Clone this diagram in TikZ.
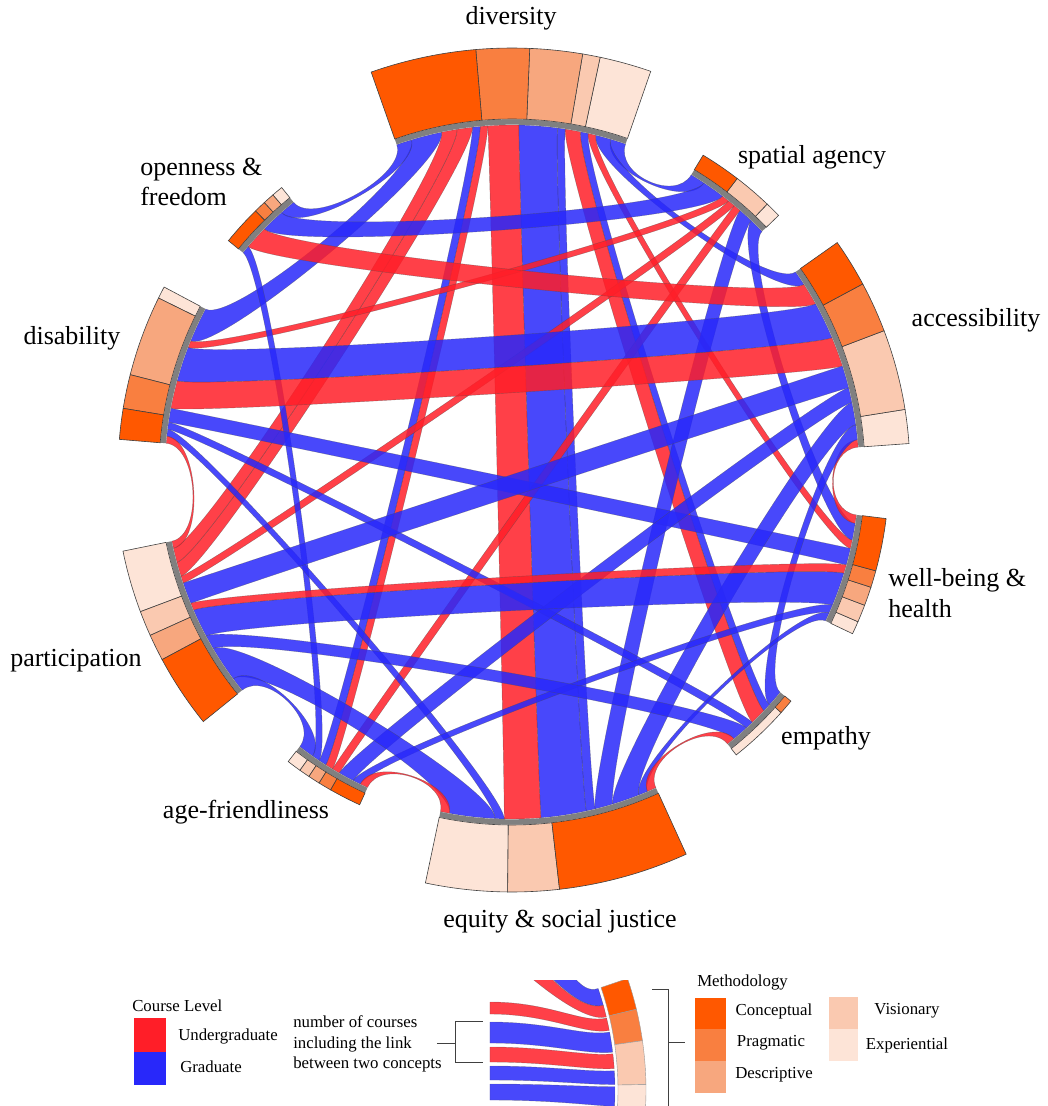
\documentclass[tikz,border=0pt]{standalone}
\usepackage{fontspec}
\setmainfont{Liberation Serif}
\definecolor{mConc}{RGB}{255,88,0}
\definecolor{mPrag}{RGB}{249,127,64}
\definecolor{mDesc}{RGB}{247,167,126}
\definecolor{mVis}{RGB}{250,201,176}
\definecolor{mExp}{RGB}{253,228,215}
\definecolor{ugRed}{RGB}{255,30,40}
\definecolor{grBlue}{RGB}{40,40,250}
\definecolor{ringGray}{RGB}{128,128,128}

% radius where ribbons end, radius of the bezier handles
\newcommand\RR{347}
\newcommand\RC{315}

% \setslots{start angle}{end angle}{name/width,...}: split an arc into ribbon slots
\newcommand\setslots[3]{%
  \xdef\slotsum{0}%
  \foreach \sn/\sw in {#3}{\pgfmathsetmacro\slottmp{\slotsum+\sw}\global\let\slotsum\slottmp}%
  \pgfmathsetmacro\slotk{((#2)-(#1))/\slotsum}%
  \xdef\slotcur{#1}%
  \foreach \sn/\sw in {#3}{%
    \pgfmathsetmacro\slotnext{\slotcur+\slotk*\sw}%
    \expandafter\xdef\csname sa@\sn\endcsname{\slotcur}%
    \expandafter\xdef\csname sb@\sn\endcsname{\slotnext}%
    \global\let\slotcur\slotnext}}

% \rib{style}{slot on one arc}{slot on the other arc}
\newcommand\rib[3]{%
  \edef\ribAa{\csname sa@#2\endcsname}\edef\ribAb{\csname sb@#2\endcsname}%
  \edef\ribBa{\csname sa@#3\endcsname}\edef\ribBb{\csname sb@#3\endcsname}%
  \path[#1] (\ribAa:\RR) arc[start angle=\ribAa,end angle=\ribAb,radius=\RR]
    .. controls (\ribAb:\RC) and (\ribBa:\RC) .. (\ribBa:\RR)
    arc[start angle=\ribBa,end angle=\ribBb,radius=\RR]
    .. controls (\ribBb:\RC) and (\ribAa:\RC) .. cycle;}

% methodology block: colour, from, to, outer radius
\newcommand\blk[4]{%
  \path[blockline, fill=#1] (#2:353) arc[start angle=#2,end angle=#3,radius=353]
    -- (#3:#4) arc[start angle=#3,end angle=#2,radius=#4] -- cycle;}
% grey ring piece under a concept
\newcommand\ring[2]{\draw[ringGray, line width=4pt] (#1:350) arc[start angle=#1,end angle=#2,radius=350];}

\begin{document}
\begin{tikzpicture}[x=0.75pt,y=0.75pt,
  ug/.style={fill=ugRed, fill opacity=0.85, draw=black!70, draw opacity=0.5, line width=0.3pt},
  gr/.style={fill=grBlue, fill opacity=0.85, draw=black!70, draw opacity=0.5, line width=0.3pt},
  blockline/.style={draw=black!75, line width=0.45pt},
  lab/.style={font=\fontsize{19.5}{23}\selectfont, inner sep=0pt},
  leg/.style={font=\fontsize{12.6}{15.4}\selectfont, inner sep=0pt},
  brk/.style={draw=black!75, line width=0.7pt}]
\useasboundingbox (-512,-634) rectangle (535,472);

% ---------- ribbon slots on each concept arc (counter-clockwise) ----------
\setslots{70.9}{109.4}{1d/2,2d/2,3d/1,4d/1,5d/2,6d/1,7d/5,8d/4,9d/1,10d/1,11d/2,12d/2,13d/4,14d/2}
\setslots{43.9}{58.9}{15s/2,16s/2,17s/1,18s/1,19s/1,20s/3,1s/2}
\setslots{4.1}{35.2}{29a/1,30a/2,31a/3,33a/2,32a/3,24a/4,23a/5,21a/3,2a/2}
\setslots{-25.4}{-7.1}{37w/1,36w/1,34w/4,35w/1,25w/2,3w/1,15w/2,29w/1}
\setslots{-51.6}{-39.4}{39e/1,38e/2,26e/1,5e/2,4e/1,30e/2}
\setslots{-101.9}{-65.5}{41q/1,40q/5,27q/1,8q/4,7q/5,6q/1,16q/2,31q/3,37q/1,39q/1}
\setslots{-127.7}{-114.6}{42g/2,22g/1,10g/1,9g/1,17g/1,33g/2,36g/1,41g/1}
\setslots{191.5}{218.96}{28p/1,12p/2,11p/2,18p/1,32p/3,35p/1,34p/4,38p/2,40p/5,42p/2}
\setslots{152}{175.25}{13i/5,19i/1,23i/5,24i/4,25i/2,26i/1,27i/1,28i/1}
\setslots{129}{140.8}{14o/2,20o/3,21o/3,22o/1}

% ---------- ribbons ----------
\rib{gr}{1d}{1s}
\rib{gr}{2d}{2a}
\rib{ug}{3d}{3w}
\rib{gr}{4d}{4e}
\rib{ug}{5d}{5e}
\rib{gr}{6d}{6q}
\rib{gr}{7d}{7q}
\rib{ug}{8d}{8q}
\rib{ug}{9d}{9g}
\rib{gr}{10d}{10g}
\rib{ug}{11d}{11p}
\rib{ug}{12d}{12p}
\rib{gr}{13d}{13i}
\rib{gr}{14d}{14o}
\rib{gr}{15s}{15w}
\rib{gr}{16s}{16q}
\rib{ug}{17s}{17g}
\rib{ug}{18s}{18p}
\rib{ug}{19s}{19i}
\rib{gr}{20s}{20o}
\rib{ug}{21o}{21a}
\rib{gr}{22o}{22g}
\rib{gr}{23i}{23a}
\rib{ug}{24i}{24a}
\rib{gr}{25i}{25w}
\rib{gr}{26i}{26e}
\rib{gr}{27i}{27q}
\rib{ug}{28i}{28p}
\rib{ug}{29a}{29w}
\rib{gr}{30a}{30e}
\rib{gr}{31a}{31q}
\rib{gr}{32a}{32p}
\rib{gr}{33a}{33g}
\rib{gr}{34w}{34p}
\rib{ug}{35w}{35p}
\rib{gr}{36w}{36g}
\rib{gr}{37w}{37q}
\rib{gr}{38e}{38p}
\rib{ug}{39e}{39q}
\rib{gr}{40q}{40p}
\rib{ug}{41q}{41g}
\rib{gr}{42p}{42g}

% ---------- grey ring ----------
\ring{70.9}{109.4}
\ring{43.9}{58.9}
\ring{4.1}{35.2}
\ring{-25.4}{-7.1}
\ring{-51.6}{-39.4}
\ring{-101.9}{-65.5}
\ring{-127.7}{-114.6}
\ring{191.5}{218.96}
\ring{152}{175.25}
\ring{129}{140.8}

% ---------- methodology blocks ----------
% diversity
\blk{mExp}{70.9}{78.0}{424}\blk{mVis}{78.0}{80.4}{424}\blk{mDesc}{80.4}{87.6}{424}
\blk{mPrag}{87.6}{94.9}{424}\blk{mConc}{94.9}{109.4}{424}
% spatial agency
\blk{mExp}{43.9}{46.4}{370}\blk{mVis}{46.4}{52.5}{370}\blk{mConc}{52.5}{58.9}{370}
% accessibility
\blk{mExp}{4.1}{9.05}{398}\blk{mVis}{9.05}{20.8}{398}\blk{mPrag}{20.8}{28.2}{398}\blk{mConc}{28.2}{35.2}{398}
% well-being & health
\blk{mExp}{-25.4}{-23.4}{377}\blk{mVis}{-23.4}{-20.7}{377}\blk{mDesc}{-20.7}{-17.8}{377}
\blk{mPrag}{-17.8}{-15.2}{377}\blk{mConc}{-15.2}{-7.1}{377}
% empathy
\blk{mExp}{-51.6}{-41.8}{361}\blk{mPrag}{-41.8}{-39.4}{361}
% equity & social justice
\blk{mExp}{-101.9}{-90.6}{420}\blk{mVis}{-90.6}{-83.5}{420}\blk{mConc}{-83.5}{-65.5}{420}
% age-friendliness
\blk{mExp}{-127.7}{-125.4}{366}\blk{mVis}{-125.4}{-123.7}{366}\blk{mDesc}{-123.7}{-121.8}{366}
\blk{mPrag}{-121.8}{-119.7}{366}\blk{mConc}{-119.7}{-114.6}{366}
% participation
\blk{mExp}{191.5}{200.6}{397}\blk{mVis}{200.6}{204.3}{397}\blk{mDesc}{204.3}{208.2}{397}\blk{mConc}{208.2}{218.96}{397}
% disability
\blk{mExp}{152}{153.8}{394}\blk{mDesc}{153.8}{165.7}{394}\blk{mPrag}{165.7}{170.7}{394}\blk{mConc}{170.7}{175.25}{394}
% openness & freedom
\blk{mExp}{129}{130.8}{366}\blk{mDesc}{130.8}{132.6}{366}\blk{mPrag}{132.6}{134.5}{366}\blk{mConc}{134.5}{140.8}{366}

% ---------- concept labels ----------
\node[lab] (tDiv) at (-1,454) {diversity};
\node[lab] (tSpa) at (300,315) {spatial agency};
\node[lab, anchor=west, align=left] (tOpe) at (-372,290) {openness \&\\freedom};
\node[lab] (tDis) at (-440,134) {disability};
\node[lab] (tAcc) at (464,152) {accessibility};
\node[lab, anchor=west, align=left] (tWel) at (376,-121) {well-being \&\\health};
\node[lab] (tPar) at (-436,-189) {participation};
\node[lab] (tEmp) at (314,-266) {empathy};
\node[lab] (tAge) at (-266,-340) {age-friendliness};
\node[lab] (tEqu) at (48,-449) {equity \& social justice};

% ---------- legend: course level ----------
\node[leg, anchor=west] (lCourse) at (-380,-534) {Course Level};
\fill[ugRed] (-378,-546) rectangle (-346,-580);
\fill[grBlue] (-378,-580) rectangle (-346,-613);
\node[leg, anchor=west] (lUg) at (-334,-564) {Undergraduate};
\node[leg, anchor=west] (lGr) at (-332,-595) {Graduate};
\node[leg, anchor=west, align=left] (lNum) at (-219,-572) {number of courses\\including the link\\between two concepts};
\draw[brk] (-75,-571) -- (-57,-571);
\draw[brk] (-29,-549) -- (-57,-549) -- (-57,-590) -- (-29,-590);

% ---------- legend: sample of the ring ----------
\begin{scope}
\clip (-22,-508) rectangle (138,-634);
\begin{scope}[shift={(-212,-618)}]
  \path[gr] (250,135) .. controls (270,125) and (18.8:295) .. (18.8:315)
     arc[start angle=18.8,end angle=15.6,radius=315] .. controls (15.6:290) and (245,120) .. (228,135) -- cycle;
  \path[ug] (228,135) .. controls (245,118) and (15.6:290) .. (15.6:315)
     arc[start angle=15.6,end angle=13.4,radius=315] .. controls (13.4:290) and (230,112) .. (205,135) -- cycle;
  \path[ug] (190,88) .. controls (250,88) and (13.2:290) .. (13.2:315)
     arc[start angle=13.2,end angle=10.9,radius=315] .. controls (10.9:290) and (250,76) .. (190,76) -- cycle;
  \path[gr] (190,68) .. controls (250,68) and (10.6:290) .. (10.6:315)
     arc[start angle=10.6,end angle=6.9,radius=315] .. controls (6.9:290) and (250,47) .. (190,47) -- cycle;
  \path[ug] (190,43) .. controls (250,43) and (6.6:290) .. (6.6:315)
     arc[start angle=6.6,end angle=3.9,radius=315] .. controls (3.9:290) and (250,28) .. (190,28) -- cycle;
  \path[gr] (190,24) .. controls (250,24) and (3.5:290) .. (3.5:315)
     arc[start angle=3.5,end angle=1.0,radius=315] .. controls (1.0:290) and (250,10) .. (190,10) -- cycle;
  \path[gr] (190,6) .. controls (250,6) and (0.6:290) .. (0.6:315)
     arc[start angle=0.6,end angle=-3,radius=315] .. controls (-3:290) and (250,-10) .. (190,-10) -- cycle;
  \draw[white, line width=1.2pt] (19:316.5) arc[start angle=19,end angle=-5,radius=316.5];
  \foreach \ca/\cb/\cc in {18.8/13.5/mConc, 13.5/8.2/mPrag, 8.2/0.9/mVis, 0.9/-6/mExp}{
    \path[draw=black!40, line width=0.3pt, fill=\cc] (\ca:318) arc[start angle=\ca,end angle=\cb,radius=318]
      -- (\cb:346) arc[start angle=\cb,end angle=\ca,radius=346] -- cycle;}
\end{scope}
\end{scope}
\draw[brk] (140,-517) -- (156,-517) -- (156,-634);
\draw[brk] (156,-570) -- (173,-570);

% ---------- legend: methodology ----------
\node[leg, anchor=west] (lMeth) at (185,-510) {Methodology};
\fill[mConc] (183,-526) rectangle (214,-557);
\fill[mPrag] (183,-557) rectangle (214,-589);
\fill[mDesc] (183,-589) rectangle (214,-621);
\fill[mVis] (317,-525) rectangle (346,-557);
\fill[mExp] (317,-557) rectangle (346,-589);
\node[leg] (lCon) at (262,-539) {Conceptual};
\node[leg] (lPra) at (259,-571) {Pragmatic};
\node[leg] (lDes) at (262,-603) {Descriptive};
\node[leg] (lVis) at (395,-539) {Visionary};
\node[leg] (lExp) at (395,-573) {Experiential};
\end{tikzpicture}
\end{document}
